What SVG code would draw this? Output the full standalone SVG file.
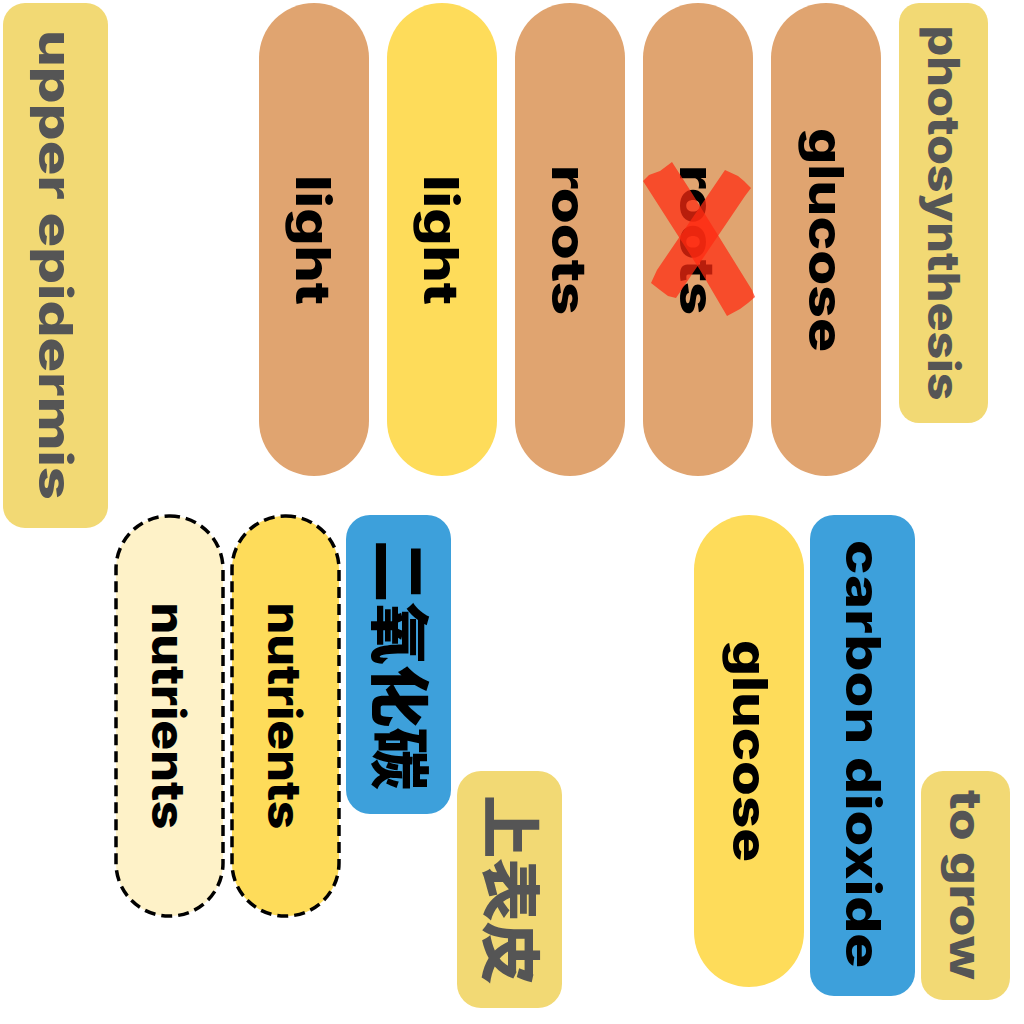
<svg xmlns="http://www.w3.org/2000/svg" width="1024" height="1024" viewBox="0 0 1024 1024">
<style>
.t{font-family:"Inter","Noto Sans","Noto Sans CJK SC",sans-serif;font-weight:800;text-anchor:middle;dominant-baseline:central;}
.dk{fill:#000;}
.gr{fill:#555555;}
.tan{fill:#E0A470;}
.yel{fill:#FEDC5A;}
.soft{fill:#F2D974;}
.blue{fill:#3DA0DB;}
.cream{fill:#FEF2C8;}
.dash{stroke:#000;stroke-width:3.5;stroke-dasharray:11 6;}
.x{fill:#FF2A10;opacity:0.72;}
</style>
<rect width="1024" height="1024" fill="#fff"/>
<g id="n-upper-epidermis">
<rect class="soft" x="3" y="3" width="105" height="525" rx="22"/>
<text class="t gr" font-size="46" transform="translate(56,265) rotate(90)" textLength="470" lengthAdjust="spacingAndGlyphs">upper epidermis</text>
</g>
<g id="n-light-1">
<rect class="tan" x="259" y="3" width="110" height="473" rx="55"/>
<text class="t dk" font-size="48" transform="translate(313,240) rotate(90)" textLength="130" lengthAdjust="spacingAndGlyphs">light</text>
</g>
<g id="n-light-2">
<rect class="yel" x="387" y="3" width="110" height="473" rx="55"/>
<text class="t dk" font-size="48" transform="translate(441,240) rotate(90)" textLength="130" lengthAdjust="spacingAndGlyphs">light</text>
</g>
<g id="n-roots-1">
<rect class="tan" x="515" y="3" width="110" height="473" rx="55"/>
<text class="t dk" font-size="48" transform="translate(569,240) rotate(90)" textLength="150" lengthAdjust="spacingAndGlyphs">roots</text>
</g>
<g id="n-roots-2">
<rect class="tan" x="643" y="3" width="110" height="473" rx="55"/>
<text class="t dk" font-size="48" transform="translate(697,240) rotate(90)" textLength="150" lengthAdjust="spacingAndGlyphs">roots</text>
<path class="x" d="M643,181 L649,175 L660,171 L672,162 L690,190 L752,290 L755,297 L748,303 L740,309 L727,316 L700,270 Z"/>
<path class="x" d="M725,170 L738,176 L744,181 L751,188 L745,196 L676,298 L668,296 L660,290 L651,283 L657,270 Z"/>
</g>
<g id="n-glucose-1">
<rect class="tan" x="771" y="3" width="110" height="473" rx="55"/>
<text class="t dk" font-size="48" transform="translate(826,240) rotate(90)" textLength="224" lengthAdjust="spacingAndGlyphs">glucose</text>
</g>
<g id="n-photosynthesis">
<rect class="soft" x="899" y="3" width="89" height="420" rx="20"/>
<text class="t gr" font-size="44" transform="translate(944,213) rotate(90)" textLength="375" lengthAdjust="spacingAndGlyphs">photosynthesis</text>
</g>
<g id="n-nutrients-1">
<rect class="cream dash" x="116" y="516" width="107" height="400" rx="53"/>
<text class="t dk" font-size="46" transform="translate(169,716) rotate(90)" textLength="227" lengthAdjust="spacingAndGlyphs">nutrients</text>
</g>
<g id="n-nutrients-2">
<rect class="yel dash" x="232" y="516" width="107" height="400" rx="53"/>
<text class="t dk" font-size="46" transform="translate(285,716) rotate(90)" textLength="227" lengthAdjust="spacingAndGlyphs">nutrients</text>
</g>
<g id="n-co2-zh">
<rect class="blue" x="346" y="515" width="105" height="299" rx="24"/>
<text class="t dk" font-size="60" transform="translate(399,665) rotate(90)" textLength="250" lengthAdjust="spacingAndGlyphs">二氧化碳</text>
</g>
<g id="n-upper-epidermis-zh">
<rect class="soft" x="457" y="771" width="105" height="237" rx="24"/>
<text class="t gr" font-size="60" transform="translate(510,890) rotate(90)" textLength="190" lengthAdjust="spacingAndGlyphs">上表皮</text>
</g>
<g id="n-glucose-2">
<rect class="yel" x="694" y="515" width="110" height="472" rx="55"/>
<text class="t dk" font-size="48" transform="translate(750,751) rotate(90)" textLength="222" lengthAdjust="spacingAndGlyphs">glucose</text>
</g>
<g id="n-carbon-dioxide">
<rect class="blue" x="810" y="515" width="105" height="481" rx="24"/>
<text class="t dk" font-size="48" transform="translate(863,754) rotate(90)" textLength="428" lengthAdjust="spacingAndGlyphs">carbon dioxide</text>
</g>
<g id="n-to-grow">
<rect class="soft" x="921" y="771" width="89" height="229" rx="22"/>
<text class="t gr" font-size="44" transform="translate(966,885) rotate(90)" textLength="190" lengthAdjust="spacingAndGlyphs">to grow</text>
</g>
<g id="connectors"></g>
</svg>
